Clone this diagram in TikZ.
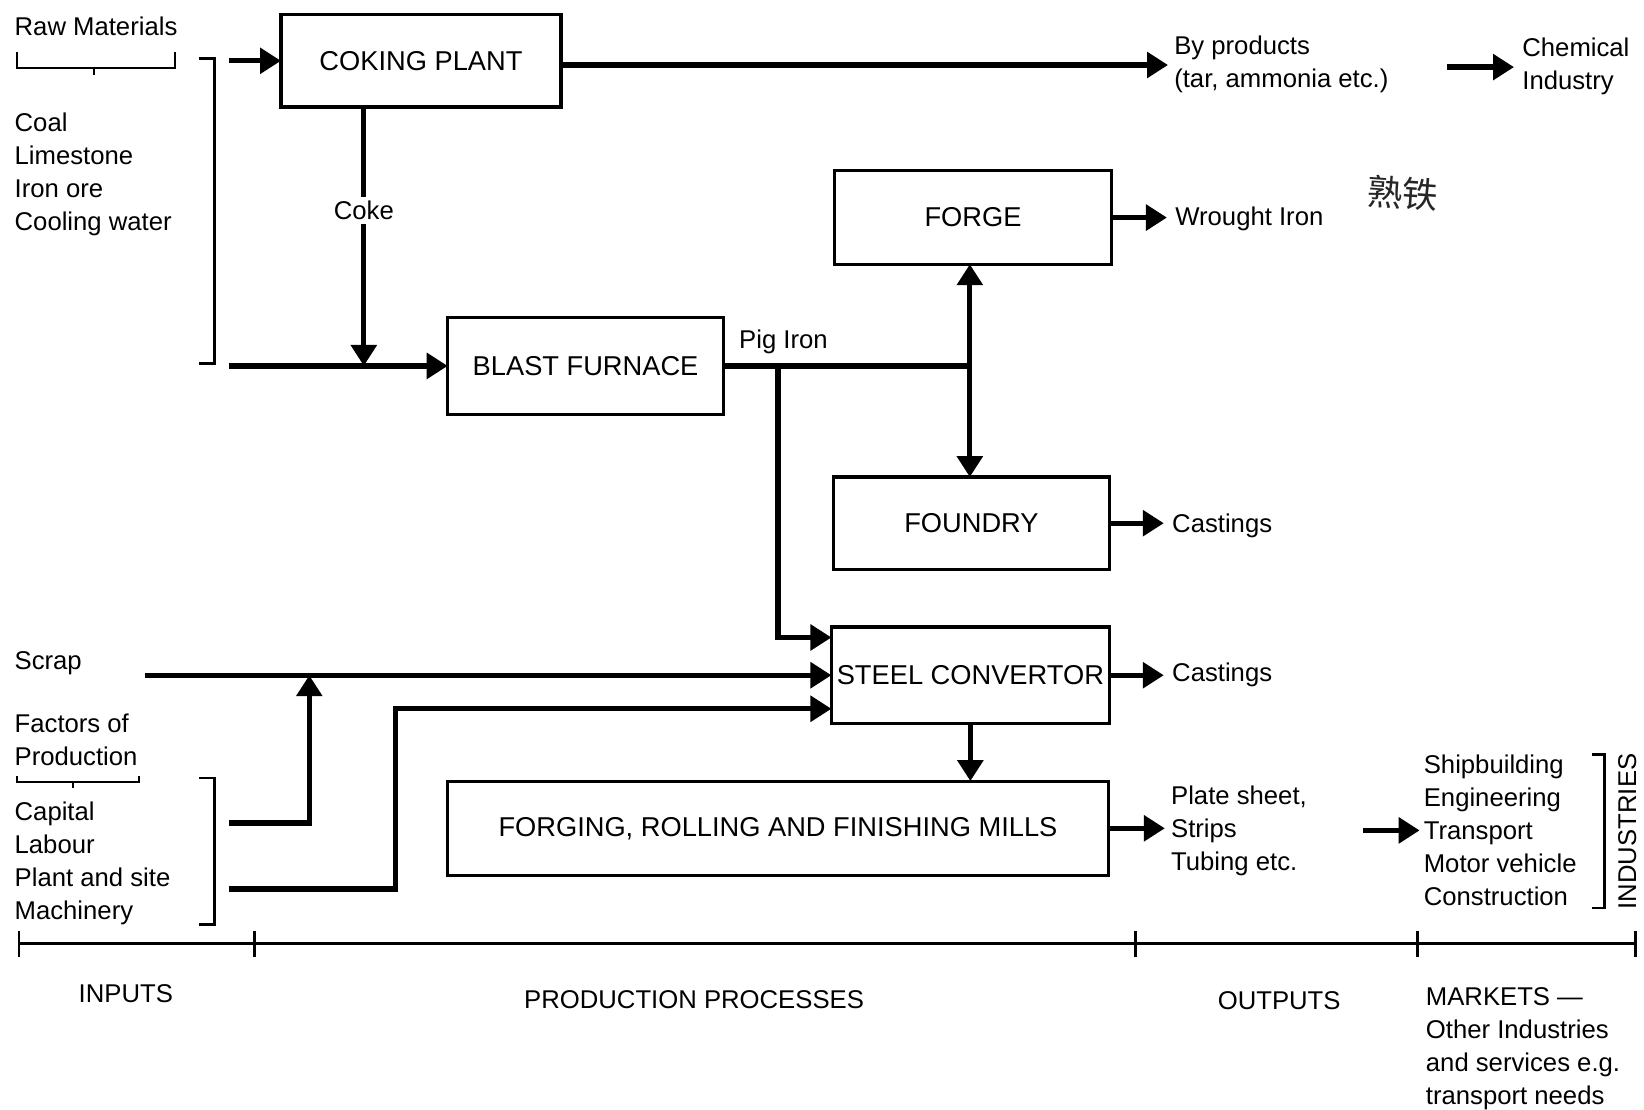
\documentclass[tikz,border=0pt]{standalone}
\usepackage{fontspec}
\setmainfont{Liberation Sans}
\newfontfamily\cjk{Noto Sans CJK SC}
\usetikzlibrary{arrows.meta,calc}
\begin{document}
\begin{tikzpicture}[x=1pt,y=-1pt,
  every node/.style={font=\fontsize{24.5}{31.5}\selectfont},
  box/.style={draw,line width=3pt,outer sep=0pt,inner sep=0pt,font=\fontsize{26}{31}\selectfont},
  txt/.style={inner sep=0pt,outer sep=0pt,align=left,anchor=west},
  conn/.style={line width=5pt,-{Triangle[length=20pt,width=24pt]}},
  plain/.style={line width=5pt},
  brk/.style={line width=2.8pt},
  brace/.style={line width=2pt}]
\useasboundingbox (0,0) rectangle (1568,1058);
\fill[white] (0,0) rectangle (1568,1058);

% boxes
\node[box,minimum width=267pt,minimum height=88pt] (coking) at (401.5,58) {COKING PLANT};
\node[box,minimum width=263pt,minimum height=92pt] (bf) at (558.5,349) {BLAST FURNACE};
\node[box,minimum width=264pt,minimum height=89pt] (forge) at (928,207.5) {FORGE};
\node[box,minimum width=263pt,minimum height=88pt] (foundry) at (926.5,499) {FOUNDRY};
\node[box,minimum width=265pt,minimum height=92pt] (conv) at (925.5,644) {STEEL CONVERTOR};
\node[box,minimum width=630pt,minimum height=90pt] (mills) at (742,790) {FORGING, ROLLING AND FINISHING MILLS};

% input texts
\node[txt] (raw) at (14,25) {Raw Materials};
\node[txt] (coal) at (14,166) {Coal\\Limestone\\Iron ore\\Cooling water};
\node[txt] (scrap) at (14,633) {Scrap};
\node[txt] (factors) at (14,706) {Factors of\\Production};
\node[txt] (capital) at (14,823) {Capital\\Labour\\Plant and site\\Machinery};

% output texts
\node[txt] (byprod) at (1120,61) {By products\\(tar, ammonia etc.)};
\node[txt] (chem) at (1452,63) {Chemical\\Industry};
\node[txt] (wrought) at (1121,209) {Wrought Iron};
\node[inner sep=0pt,rotate=-4,text=black!85] (hand) at (1338,184) {\cjk\fontsize{34}{34}\selectfont 熟铁};
\node[txt] (cast1) at (1118,502) {Castings};
\node[txt] (cast2) at (1118,644) {Castings};
\node[txt] (plate) at (1117,792) {Plate sheet,\\Strips\\Tubing etc.};
\node[txt] (markets) at (1358,792) {Shipbuilding\\Engineering\\Transport\\Motor vehicle\\Construction};
\node[inner sep=0pt,rotate=90] (ind) at (1552,793) {INDUSTRIES};
\node[txt] (pig) at (705,326) {Pig Iron};

% coordinates
\coordinate (rawin) at (218,58);
\coordinate (rawbot) at (218,349);
\coordinate (cokej) at (347,349);
\coordinate (pigj) at (925,349);
\coordinate (pigb) at (742,349);
\coordinate (convin1) at (793,608);
\coordinate (scrapst) at (138,644);
\coordinate (scrapj) at (295,644);
\coordinate (fp1) at (218,785);
\coordinate (fp2) at (218,848);
\coordinate (bend2) at (377,676);
\coordinate (convin3) at (793,676);
\coordinate (chemin) at (1380,64);
\coordinate (mk) at (1300,792);

% connectors
\draw[conn] (rawin) -- (coking.west);
\draw[conn] (coking.east |- 0,62) -- ([xshift=-6pt]byprod.west |- 0,62);
\draw[conn] (chemin) -- ([xshift=-8pt]chem.west |- chemin);
\draw[conn] (coking.south -| cokej) -- (cokej) node[pos=0.4,fill=white,inner sep=4pt] (coke) {Coke};
\draw[conn] (rawbot) -- (bf.west);
\draw[plain] (bf.east) -- (pigj);
\draw[conn] (pigj) -- (forge.south -| pigj);
\draw[conn] (pigj) -- (foundry.north -| pigj);
\draw[conn] (pigb) |- (convin1);
\draw[conn] (scrapst) -- (conv.west);
\draw[conn] (fp1) -| (scrapj);
\draw[conn] (fp2) -| (bend2) -- (convin3);
\draw[conn] (conv.south) -- (mills.north -| conv.south);
\draw[conn] (forge.east) -- ([xshift=-8pt]wrought.west |- forge.east);
\draw[conn] (foundry.east) -- ([xshift=-8pt]cast1.west |- foundry.east);
\draw[conn] (conv.east) -- ([xshift=-8pt]cast2.west |- conv.east);
\draw[conn] (mills.east) -- ([xshift=-6pt]plate.west |- mills.east);
\draw[conn] (mk) -- ([xshift=-4pt]markets.west |- mk);

% brackets and braces
\draw[brk] (190,56) -- (205,56) -- (205,347) -- (190,347);
\draw[brk] (190,742) -- (205,742) -- (205,882) -- (190,882);
\draw[brk] (1518,720) -- (1530,720) -- (1530,866) -- (1518,866);
\draw[brace] (16,50) -- (16,65) -- (167,65) -- (167,50);
\draw[brace] (90,65) -- (90,72);
\draw[brace] (16,740) -- (16,746) -- (133,746) -- (133,740);
\draw[brace] (70,746) -- (70,752);

% timeline
\draw[line width=3pt] (18,900) -- (1560,900);
\foreach \x in {18,243,1083,1352,1560} \draw[line width=2.5pt] (\x,888) -- (\x,913);
\node (inputs) at (120,948) {INPUTS};
\node[txt] (prod) at (500,953) {PRODUCTION PROCESSES};
\node (outputs) at (1220,954) {OUTPUTS};
\node[txt] (mkt) at (1360,1000) {MARKETS ---\\Other Industries\\and services e.g.\\transport needs};
\end{tikzpicture}
\end{document}
